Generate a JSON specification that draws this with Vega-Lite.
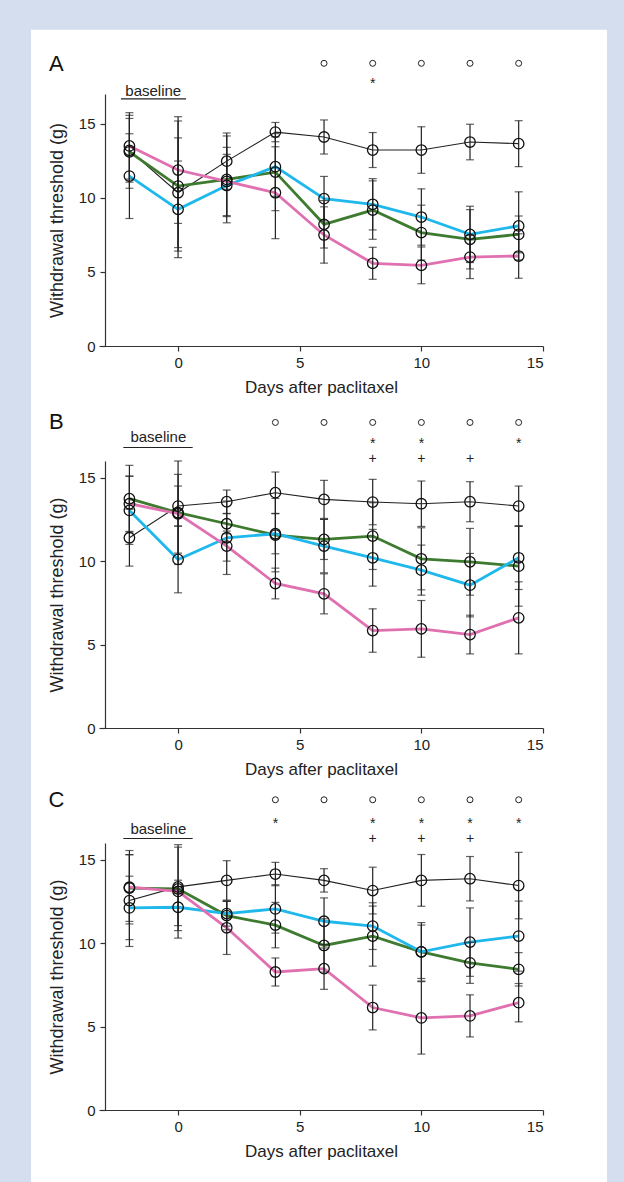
{
  "$schema": "https://vega.github.io/schema/vega-lite/v6.json",
  "background": "#d5deef",
  "padding": {"left": 31, "top": 29, "right": 17, "bottom": 0},
  "autosize": {"type": "pad"},
  "config": {
    "font": "Liberation Sans",
    "view": {"stroke": null},
    "axis": {"grid": false, "zindex": 1, "domainColor": "#333333", "tickColor": "#333333", "labelColor": "#222222", "titleColor": "#222222", "labelFontSize": 15, "titleFontSize": 17, "titleFontWeight": "normal", "tickSize": 5, "domainWidth": 1.2, "tickWidth": 1.2}
  },
  "datasets": {
    "A": [
      {"day": -2, "group": "black", "mean": 13.2, "sem": 2.15}, {"day": 0, "group": "black", "mean": 10.34, "sem": 3.7}, {"day": 2, "group": "black", "mean": 12.47, "sem": 1.9}, {"day": 4, "group": "black", "mean": 14.43, "sem": 0.65}, {"day": 6, "group": "black", "mean": 14.1, "sem": 1.15}, {"day": 8, "group": "black", "mean": 13.22, "sem": 1.18}, {"day": 10, "group": "black", "mean": 13.22, "sem": 1.57}, {"day": 12, "group": "black", "mean": 13.76, "sem": 1.2}, {"day": 14, "group": "black", "mean": 13.65, "sem": 1.55},
      {"day": -2, "group": "green", "mean": 13.1, "sem": 2.46}, {"day": 0, "group": "green", "mean": 10.79, "sem": 4.39}, {"day": 2, "group": "green", "mean": 11.24, "sem": 2.93}, {"day": 4, "group": "green", "mean": 11.73, "sem": 2.6}, {"day": 6, "group": "green", "mean": 8.21, "sem": 1.6}, {"day": 8, "group": "green", "mean": 9.17, "sem": 1.97}, {"day": 10, "group": "green", "mean": 7.65, "sem": 1.85}, {"day": 12, "group": "green", "mean": 7.2, "sem": 2.0}, {"day": 14, "group": "green", "mean": 7.53, "sem": 1.24},
      {"day": -2, "group": "blue", "mean": 11.46, "sem": 2.86}, {"day": 0, "group": "blue", "mean": 9.22, "sem": 3.26}, {"day": 2, "group": "blue", "mean": 10.83, "sem": 2.1}, {"day": 4, "group": "blue", "mean": 12.1, "sem": 2.0}, {"day": 6, "group": "blue", "mean": 9.94, "sem": 1.5}, {"day": 8, "group": "blue", "mean": 9.56, "sem": 1.73}, {"day": 10, "group": "blue", "mean": 8.7, "sem": 1.9}, {"day": 12, "group": "blue", "mean": 7.53, "sem": 1.9}, {"day": 14, "group": "blue", "mean": 8.1, "sem": 2.3},
      {"day": -2, "group": "pink", "mean": 13.5, "sem": 2.24}, {"day": 0, "group": "pink", "mean": 11.87, "sem": 3.6}, {"day": 2, "group": "pink", "mean": 11.1, "sem": 2.3}, {"day": 4, "group": "pink", "mean": 10.34, "sem": 3.1}, {"day": 6, "group": "pink", "mean": 7.49, "sem": 1.9}, {"day": 8, "group": "pink", "mean": 5.58, "sem": 1.08}, {"day": 10, "group": "pink", "mean": 5.44, "sem": 1.24}, {"day": 12, "group": "pink", "mean": 6.0, "sem": 1.45}, {"day": 14, "group": "pink", "mean": 6.07, "sem": 1.5}
    ],
    "B": [
      {"day": -2, "group": "black", "mean": 11.4, "sem": 1.7}, {"day": 0, "group": "black", "mean": 13.3, "sem": 1.2}, {"day": 2, "group": "black", "mean": 13.56, "sem": 0.7}, {"day": 4, "group": "black", "mean": 14.1, "sem": 1.24}, {"day": 6, "group": "black", "mean": 13.7, "sem": 1.14}, {"day": 8, "group": "black", "mean": 13.54, "sem": 1.36}, {"day": 10, "group": "black", "mean": 13.44, "sem": 1.36}, {"day": 12, "group": "black", "mean": 13.56, "sem": 1.2}, {"day": 14, "group": "black", "mean": 13.3, "sem": 1.2},
      {"day": -2, "group": "green", "mean": 13.74, "sem": 2.0}, {"day": 0, "group": "green", "mean": 12.9, "sem": 3.1}, {"day": 2, "group": "green", "mean": 12.24, "sem": 0.6}, {"day": 4, "group": "green", "mean": 11.56, "sem": 2.2}, {"day": 6, "group": "green", "mean": 11.3, "sem": 1.2}, {"day": 8, "group": "green", "mean": 11.5, "sem": 2.0}, {"day": 10, "group": "green", "mean": 10.14, "sem": 1.86}, {"day": 12, "group": "green", "mean": 9.96, "sem": 2.0}, {"day": 14, "group": "green", "mean": 9.7, "sem": 2.4},
      {"day": -2, "group": "blue", "mean": 13.04, "sem": 2.04}, {"day": 0, "group": "blue", "mean": 10.1, "sem": 2.0}, {"day": 2, "group": "blue", "mean": 11.4, "sem": 2.2}, {"day": 4, "group": "blue", "mean": 11.64, "sem": 1.2}, {"day": 6, "group": "blue", "mean": 10.9, "sem": 1.6}, {"day": 8, "group": "blue", "mean": 10.2, "sem": 1.7}, {"day": 10, "group": "blue", "mean": 9.46, "sem": 1.5}, {"day": 12, "group": "blue", "mean": 8.56, "sem": 1.9}, {"day": 14, "group": "blue", "mean": 10.2, "sem": 1.9},
      {"day": -2, "group": "pink", "mean": 13.44, "sem": 1.66}, {"day": 0, "group": "pink", "mean": 12.84, "sem": 2.36}, {"day": 2, "group": "pink", "mean": 10.9, "sem": 0.9}, {"day": 4, "group": "pink", "mean": 8.66, "sem": 0.92}, {"day": 6, "group": "pink", "mean": 8.04, "sem": 1.2}, {"day": 8, "group": "pink", "mean": 5.84, "sem": 1.3}, {"day": 10, "group": "pink", "mean": 5.94, "sem": 1.7}, {"day": 12, "group": "pink", "mean": 5.6, "sem": 1.16}, {"day": 14, "group": "pink", "mean": 6.6, "sem": 2.16}
    ],
    "C": [
      {"day": -2, "group": "black", "mean": 12.55, "sem": 2.75}, {"day": 0, "group": "black", "mean": 13.37, "sem": 0.4}, {"day": 2, "group": "black", "mean": 13.76, "sem": 1.18}, {"day": 4, "group": "black", "mean": 14.14, "sem": 0.7}, {"day": 6, "group": "black", "mean": 13.76, "sem": 0.7}, {"day": 8, "group": "black", "mean": 13.15, "sem": 1.4}, {"day": 10, "group": "black", "mean": 13.76, "sem": 1.55}, {"day": 12, "group": "black", "mean": 13.86, "sem": 1.33}, {"day": 14, "group": "black", "mean": 13.45, "sem": 1.99},
      {"day": -2, "group": "green", "mean": 13.3, "sem": 2.0}, {"day": 0, "group": "green", "mean": 13.25, "sem": 2.5}, {"day": 2, "group": "green", "mean": 11.65, "sem": 0.85}, {"day": 4, "group": "green", "mean": 11.08, "sem": 1.36}, {"day": 6, "group": "green", "mean": 9.86, "sem": 1.6}, {"day": 8, "group": "green", "mean": 10.42, "sem": 1.8}, {"day": 10, "group": "green", "mean": 9.48, "sem": 1.6}, {"day": 12, "group": "green", "mean": 8.82, "sem": 1.23}, {"day": 14, "group": "green", "mean": 8.43, "sem": 1.0},
      {"day": -2, "group": "blue", "mean": 12.11, "sem": 1.9}, {"day": 0, "group": "blue", "mean": 12.15, "sem": 1.1}, {"day": 2, "group": "blue", "mean": 11.77, "sem": 0.75}, {"day": 4, "group": "blue", "mean": 12.05, "sem": 1.45}, {"day": 6, "group": "blue", "mean": 11.31, "sem": 1.4}, {"day": 8, "group": "blue", "mean": 11.02, "sem": 1.4}, {"day": 10, "group": "blue", "mean": 9.48, "sem": 1.75}, {"day": 12, "group": "blue", "mean": 10.06, "sem": 2.05}, {"day": 14, "group": "blue", "mean": 10.42, "sem": 2.1},
      {"day": -2, "group": "pink", "mean": 13.35, "sem": 2.2}, {"day": 0, "group": "pink", "mean": 13.1, "sem": 2.8}, {"day": 2, "group": "pink", "mean": 10.92, "sem": 1.6}, {"day": 4, "group": "pink", "mean": 8.27, "sem": 0.84}, {"day": 6, "group": "pink", "mean": 8.47, "sem": 1.24}, {"day": 8, "group": "pink", "mean": 6.14, "sem": 1.34}, {"day": 10, "group": "pink", "mean": 5.52, "sem": 2.17}, {"day": 12, "group": "pink", "mean": 5.64, "sem": 1.26}, {"day": 14, "group": "pink", "mean": 6.43, "sem": 1.15}
    ],
    "sigA": [
      {"day": 6, "test": "ring"}, {"day": 8, "test": "ring"}, {"day": 10, "test": "ring"}, {"day": 12, "test": "ring"}, {"day": 14, "test": "ring"},
      {"day": 8, "test": "star"}
    ],
    "sigB": [
      {"day": 4, "test": "ring"}, {"day": 6, "test": "ring"}, {"day": 8, "test": "ring"}, {"day": 10, "test": "ring"}, {"day": 12, "test": "ring"}, {"day": 14, "test": "ring"},
      {"day": 8, "test": "star"}, {"day": 10, "test": "star"}, {"day": 14, "test": "star"},
      {"day": 8, "test": "plus"}, {"day": 10, "test": "plus"}, {"day": 12, "test": "plus"}
    ],
    "sigC": [
      {"day": 4, "test": "ring"}, {"day": 6, "test": "ring"}, {"day": 8, "test": "ring"}, {"day": 10, "test": "ring"}, {"day": 12, "test": "ring"}, {"day": 14, "test": "ring"},
      {"day": 4, "test": "star"}, {"day": 8, "test": "star"}, {"day": 10, "test": "star"}, {"day": 12, "test": "star"}, {"day": 14, "test": "star"},
      {"day": 8, "test": "plus"}, {"day": 10, "test": "plus"}, {"day": 12, "test": "plus"}
    ]
  },
  "vconcat": [
    {
      "width": 444, "height": 252,
      "data": {"name": "A"},
      "layer": [
        {"data": {"values": [{}]}, "mark": {"type": "rect", "fill": "#ffffff", "clip": false},
         "encoding": {
           "x": {"datum": -6.045, "type": "quantitative", "scale": {"domain": [-3.25, 15], "nice": false, "zero": false}, "axis": {"values": [0, 5, 10, 15], "title": "Days after paclitaxel", "labelPadding": 4, "titlePadding": 9, "zindex": 1}},
           "x2": {"datum": 17.63},
           "y": {"datum": 21.34, "type": "quantitative", "scale": {"domain": [0, 17], "nice": false}, "axis": {"values": [0, 5, 10, 15], "title": "Withdrawal threshold (g)", "offset": -6, "labelPadding": 5, "titlePadding": 12, "titleFontSize": 18, "zindex": 1}},
           "y2": {"datum": -56.46}}},
        {"mark": {"type": "line"},
         "encoding": {
           "x": {"field": "day", "type": "quantitative", "title": "Days after paclitaxel"},
           "y": {"field": "mean", "type": "quantitative", "title": "Withdrawal threshold (g)"},
           "color": {"field": "group", "type": "nominal", "scale": {"domain": ["green", "blue", "pink", "black"], "range": ["#3e7a2f", "#1fb8ec", "#e070b0", "#222222"]}, "legend": null},
           "strokeWidth": {"field": "group", "type": "nominal", "scale": {"type": "ordinal", "domain": ["green", "blue", "pink", "black"], "range": [2.8, 2.8, 2.8, 1.1]}, "legend": null}
         }},
        {"mark": {"type": "errorbar", "ticks": {"size": 8}, "size": 8, "thickness": 1.2, "color": "#222222"},
         "encoding": {"x": {"field": "day", "type": "quantitative", "title": "Days after paclitaxel"}, "y": {"field": "mean", "type": "quantitative", "title": "Withdrawal threshold (g)"}, "yError": {"field": "sem"}}},
        {"mark": {"type": "point", "shape": "circle", "filled": false, "size": 110, "stroke": "#111111", "strokeWidth": 1.3, "opacity": 1},
         "encoding": {"x": {"field": "day", "type": "quantitative", "title": "Days after paclitaxel"}, "y": {"field": "mean", "type": "quantitative", "title": "Withdrawal threshold (g)"}}},
        {"data": {"values": [{"label": "baseline"}]}, "mark": {"type": "text", "fontSize": 15, "color": "#222222", "align": "center", "baseline": "middle"},
         "encoding": {"x": {"datum": -1.02, "type": "quantitative"}, "y": {"datum": 17.23, "type": "quantitative"}, "text": {"field": "label"}}},
        {"data": {"values": [{}]}, "mark": {"type": "rule", "color": "#222222", "strokeWidth": 1.2},
         "encoding": {"x": {"datum": -2.35, "type": "quantitative"}, "x2": {"datum": 0.33}, "y": {"datum": 16.67, "type": "quantitative"}}},
        {"data": {"name": "sigA"}, "transform": [{"filter": "datum.test === 'ring'"}],
         "mark": {"type": "point", "shape": "circle", "filled": false, "size": 36, "stroke": "#222222", "strokeWidth": 1, "opacity": 1},
         "encoding": {"x": {"field": "day", "type": "quantitative", "title": "Days after paclitaxel"}, "y": {"datum": 19.07, "type": "quantitative"}}},
        {"data": {"name": "sigA"}, "transform": [{"filter": "datum.test === 'star'"}],
         "mark": {"type": "text", "text": "*", "fontSize": 14, "color": "#222222", "align": "center", "baseline": "middle"},
         "encoding": {"x": {"field": "day", "type": "quantitative", "title": "Days after paclitaxel"}, "y": {"datum": 17.67, "type": "quantitative"}}},
        {"data": {"values": [{"label": "A"}]}, "mark": {"type": "text", "fontSize": 22, "color": "#111111", "align": "center", "baseline": "middle"},
         "encoding": {"x": {"datum": -5.0, "type": "quantitative"}, "y": {"datum": 19.05, "type": "quantitative"}, "text": {"field": "label"}}}
      ]
    },
    {
      "width": 444, "height": 267,
      "data": {"name": "B"},
      "layer": [
        {"mark": {"type": "line"},
         "encoding": {
           "x": {"field": "day", "type": "quantitative", "scale": {"domain": [-3.25, 15], "nice": false, "zero": false}, "axis": {"values": [0, 5, 10, 15], "title": "Days after paclitaxel", "labelPadding": 4, "titlePadding": 9}},
           "y": {"field": "mean", "type": "quantitative", "scale": {"domain": [0, 16], "nice": false}, "axis": {"values": [0, 5, 10, 15], "title": "Withdrawal threshold (g)", "offset": -6, "labelPadding": 5, "titlePadding": 12, "titleFontSize": 18}},
           "color": {"field": "group", "type": "nominal", "scale": {"domain": ["green", "blue", "pink", "black"], "range": ["#3e7a2f", "#1fb8ec", "#e070b0", "#222222"]}, "legend": null},
           "strokeWidth": {"field": "group", "type": "nominal", "scale": {"type": "ordinal", "domain": ["green", "blue", "pink", "black"], "range": [2.8, 2.8, 2.8, 1.1]}, "legend": null}
         }},
        {"mark": {"type": "errorbar", "ticks": {"size": 8}, "size": 8, "thickness": 1.2, "color": "#222222"},
         "encoding": {"x": {"field": "day", "type": "quantitative", "title": "Days after paclitaxel"}, "y": {"field": "mean", "type": "quantitative", "title": "Withdrawal threshold (g)"}, "yError": {"field": "sem"}}},
        {"mark": {"type": "point", "shape": "circle", "filled": false, "size": 110, "stroke": "#111111", "strokeWidth": 1.3, "opacity": 1},
         "encoding": {"x": {"field": "day", "type": "quantitative", "title": "Days after paclitaxel"}, "y": {"field": "mean", "type": "quantitative", "title": "Withdrawal threshold (g)"}}},
        {"data": {"values": [{"label": "baseline"}]}, "mark": {"type": "text", "fontSize": 15, "color": "#222222", "align": "center", "baseline": "middle"},
         "encoding": {"x": {"datum": -0.81, "type": "quantitative"}, "y": {"datum": 17.41, "type": "quantitative"}, "text": {"field": "label"}}},
        {"data": {"values": [{}]}, "mark": {"type": "rule", "color": "#222222", "strokeWidth": 1.2},
         "encoding": {"x": {"datum": -2.25, "type": "quantitative"}, "x2": {"datum": 0.6}, "y": {"datum": 16.81, "type": "quantitative"}}},
        {"data": {"name": "sigB"}, "transform": [{"filter": "datum.test === 'ring'"}],
         "mark": {"type": "point", "shape": "circle", "filled": false, "size": 36, "stroke": "#222222", "strokeWidth": 1, "opacity": 1},
         "encoding": {"x": {"field": "day", "type": "quantitative", "title": "Days after paclitaxel"}, "y": {"datum": 18.31, "type": "quantitative"}}},
        {"data": {"name": "sigB"}, "transform": [{"filter": "datum.test === 'star'"}],
         "mark": {"type": "text", "text": "*", "fontSize": 14, "color": "#222222", "align": "center", "baseline": "middle"},
         "encoding": {"x": {"field": "day", "type": "quantitative", "title": "Days after paclitaxel"}, "y": {"datum": 17.0, "type": "quantitative"}}},
        {"data": {"name": "sigB"}, "transform": [{"filter": "datum.test === 'plus'"}],
         "mark": {"type": "text", "text": "+", "fontSize": 14, "color": "#222222", "align": "center", "baseline": "middle"},
         "encoding": {"x": {"field": "day", "type": "quantitative", "title": "Days after paclitaxel"}, "y": {"datum": 16.12, "type": "quantitative"}}},
        {"data": {"values": [{"label": "B"}]}, "mark": {"type": "text", "fontSize": 22, "color": "#111111", "align": "center", "baseline": "middle"},
         "encoding": {"x": {"datum": -5.0, "type": "quantitative"}, "y": {"datum": 18.31, "type": "quantitative"}, "text": {"field": "label"}}}
      ]
    },
    {
      "width": 444, "height": 267,
      "data": {"name": "C"},
      "layer": [
        {"mark": {"type": "line"},
         "encoding": {
           "x": {"field": "day", "type": "quantitative", "scale": {"domain": [-3.25, 15], "nice": false, "zero": false}, "axis": {"values": [0, 5, 10, 15], "title": "Days after paclitaxel", "labelPadding": 4, "titlePadding": 9}},
           "y": {"field": "mean", "type": "quantitative", "scale": {"domain": [0, 16], "nice": false}, "axis": {"values": [0, 5, 10, 15], "title": "Withdrawal threshold (g)", "offset": -6, "labelPadding": 5, "titlePadding": 12, "titleFontSize": 18}},
           "color": {"field": "group", "type": "nominal", "scale": {"domain": ["green", "blue", "pink", "black"], "range": ["#3e7a2f", "#1fb8ec", "#e070b0", "#222222"]}, "legend": null},
           "strokeWidth": {"field": "group", "type": "nominal", "scale": {"type": "ordinal", "domain": ["green", "blue", "pink", "black"], "range": [2.8, 2.8, 2.8, 1.1]}, "legend": null}
         }},
        {"mark": {"type": "errorbar", "ticks": {"size": 8}, "size": 8, "thickness": 1.2, "color": "#222222"},
         "encoding": {"x": {"field": "day", "type": "quantitative", "title": "Days after paclitaxel"}, "y": {"field": "mean", "type": "quantitative", "title": "Withdrawal threshold (g)"}, "yError": {"field": "sem"}}},
        {"mark": {"type": "point", "shape": "circle", "filled": false, "size": 110, "stroke": "#111111", "strokeWidth": 1.3, "opacity": 1},
         "encoding": {"x": {"field": "day", "type": "quantitative", "title": "Days after paclitaxel"}, "y": {"field": "mean", "type": "quantitative", "title": "Withdrawal threshold (g)"}}},
        {"data": {"values": [{"label": "baseline"}]}, "mark": {"type": "text", "fontSize": 15, "color": "#222222", "align": "center", "baseline": "middle"},
         "encoding": {"x": {"datum": -0.81, "type": "quantitative"}, "y": {"datum": 16.84, "type": "quantitative"}, "text": {"field": "label"}}},
        {"data": {"values": [{}]}, "mark": {"type": "rule", "color": "#222222", "strokeWidth": 1.2},
         "encoding": {"x": {"datum": -2.25, "type": "quantitative"}, "x2": {"datum": 0.6}, "y": {"datum": 16.27, "type": "quantitative"}}},
        {"data": {"name": "sigC"}, "transform": [{"filter": "datum.test === 'ring'"}],
         "mark": {"type": "point", "shape": "circle", "filled": false, "size": 36, "stroke": "#222222", "strokeWidth": 1, "opacity": 1},
         "encoding": {"x": {"field": "day", "type": "quantitative", "title": "Days after paclitaxel"}, "y": {"datum": 18.59, "type": "quantitative"}}},
        {"data": {"name": "sigC"}, "transform": [{"filter": "datum.test === 'star'"}],
         "mark": {"type": "text", "text": "*", "fontSize": 14, "color": "#222222", "align": "center", "baseline": "middle"},
         "encoding": {"x": {"field": "day", "type": "quantitative", "title": "Days after paclitaxel"}, "y": {"datum": 17.13, "type": "quantitative"}}},
        {"data": {"name": "sigC"}, "transform": [{"filter": "datum.test === 'plus'"}],
         "mark": {"type": "text", "text": "+", "fontSize": 14, "color": "#222222", "align": "center", "baseline": "middle"},
         "encoding": {"x": {"field": "day", "type": "quantitative", "title": "Days after paclitaxel"}, "y": {"datum": 16.24, "type": "quantitative"}}},
        {"data": {"values": [{"label": "C"}]}, "mark": {"type": "text", "fontSize": 22, "color": "#111111", "align": "center", "baseline": "middle"},
         "encoding": {"x": {"datum": -5.0, "type": "quantitative"}, "y": {"datum": 18.59, "type": "quantitative"}, "text": {"field": "label"}}}
      ]
    }
  ],
  "spacing": 115,
  "bounds": "flush"
}
